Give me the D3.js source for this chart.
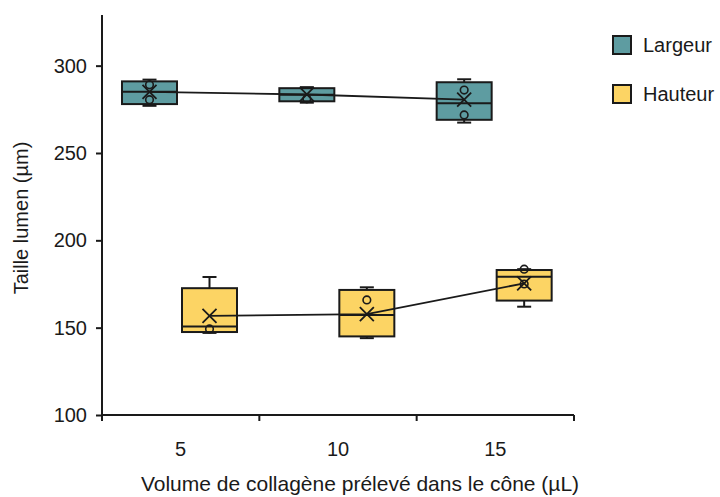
<!DOCTYPE html>
<html><head><meta charset="utf-8">
<script src="https://cdn.jsdelivr.net/npm/d3@7"></script>
<style>body{margin:0;background:#fff}svg{display:block}text{font-family:"Liberation Sans",Arial,sans-serif;fill:#1a1a1a}</style>
</head><body>
<svg id="c" width="720" height="497"></svg>
<script>
const categories = ["5", "10", "15"];
const series = ["Largeur", "Hauteur"];
const colors = ["#5e9ca1", "#fcd464"];
const yTicks = [100, 150, 200, 250, 300];
// per category: [min, q1, median, q3, max]
const largeurBox = [[277, 278, 285, 291, 292], [278.8, 279.6, 283.3, 287.1, 287.7], [267.4, 269, 278.5, 290.5, 292.2]];
const largeurMean = [285, 283.5, 280.5];
const largeurPoints = [[280.5, 289], [281], [271.8, 286]];
const hauteurBox = [[147, 147.5, 150.6, 172.6, 179], [144, 145, 157.3, 171.6, 173.1], [162, 165.5, 179.2, 183, 183.5]];
const hauteurMean = [156.7, 157.7, 175.4];
const hauteurPoints = [[149.3], [165.9], [175, 183.5]];

const svg = d3.select("#c");
const mLeft = 102, mRight = 574, mBottom = 415, mTop = 15;
const x = d3.scaleBand().domain(categories).range([mLeft, mRight]);
const xs = d3.scaleBand().domain(series).range([17.5, 137.5]);
const y = d3.scaleLinear().domain([100, 329]).range([mBottom, mTop]);
const boxW = xs.bandwidth() - 5;

const data = [
  {name: series[0], color: colors[0], box: largeurBox, mean: largeurMean, pts: largeurPoints},
  {name: series[1], color: colors[1], box: hauteurBox, mean: hauteurMean, pts: hauteurPoints}
];
const ink = "#1a1a1a";

data.forEach(s => {
  const g = svg.append("g");
  const cx = c => x(c) + xs(s.name) + xs.bandwidth() / 2;
  categories.forEach((c, i) => {
    const [mn, q1, md, q3, mx] = s.box[i];
    const X = cx(c);
    [[mx, q3], [mn, q1]].forEach(([a, b]) => {
      g.append("line").attr("x1", X).attr("x2", X).attr("y1", y(a)).attr("y2", y(b)).attr("stroke", ink).attr("stroke-width", 2);
      g.append("line").attr("x1", X - 7).attr("x2", X + 7).attr("y1", y(a)).attr("y2", y(a)).attr("stroke", ink).attr("stroke-width", 2);
    });
    g.append("rect").attr("x", X - boxW / 2).attr("width", boxW)
      .attr("y", y(q3)).attr("height", y(q1) - y(q3))
      .attr("fill", s.color).attr("stroke", ink).attr("stroke-width", 2);
    g.append("line").attr("x1", X - boxW / 2).attr("x2", X + boxW / 2).attr("y1", y(md)).attr("y2", y(md)).attr("stroke", ink).attr("stroke-width", 2);
    s.pts[i].forEach(p => {
      g.append("circle").attr("cx", X).attr("cy", y(p)).attr("r", 3.8).attr("fill", "none").attr("stroke", ink).attr("stroke-width", 1.6);
    });
    const my = y(s.mean[i]), h = 7;
    g.append("path").attr("d", `M${X - h},${my - h}L${X + h},${my + h}M${X - h},${my + h}L${X + h},${my - h}`)
      .attr("stroke", ink).attr("stroke-width", 1.8).attr("fill", "none");
  });
  g.append("path").datum(s.mean)
    .attr("d", d3.line().x((d, i) => cx(categories[i])).y(d => y(d)))
    .attr("fill", "none").attr("stroke", ink).attr("stroke-width", 1.8);
});

const ya = svg.append("g").attr("transform", `translate(${mLeft},0)`)
  .call(d3.axisLeft(y).tickValues(yTicks).tickSize(6).tickPadding(9));
ya.select(".domain").attr("d", `M0,${mTop}V${mBottom}`).attr("stroke", ink).attr("stroke-width", 2);
ya.selectAll(".tick line").attr("stroke", ink).attr("stroke-width", 2);
ya.selectAll(".tick text").style("font-size", "20px").attr("fill", ink);

const xa = svg.append("g").attr("transform", `translate(0,${mBottom})`)
  .call(d3.axisBottom(x).tickSize(0).tickPadding(27));
xa.select(".domain").attr("d", `M${mLeft},0H${mRight}`).attr("stroke", ink).attr("stroke-width", 2);
xa.selectAll(".tick text").style("font-size", "20px").attr("fill", ink);
[...categories.map(c => x(c)), mRight].forEach(v => {
  xa.append("line").attr("x1", v).attr("x2", v).attr("y1", 0).attr("y2", 6).attr("stroke", ink).attr("stroke-width", 2);
});

svg.append("text").attr("x", 360).attr("y", 491).attr("text-anchor", "middle").style("font-size", "21px")
  .text("Volume de collagène prélevé dans le cône (µL)");
svg.append("text").attr("transform", "translate(28,218) rotate(-90)").attr("text-anchor", "middle").style("font-size", "20px")
  .text("Taille lumen (µm)");

const lg = svg.append("g");
series.forEach((s, i) => {
  const cy = 45 + i * 49;
  lg.append("rect").attr("x", 613).attr("y", cy - 9).attr("width", 18).attr("height", 18)
    .attr("fill", colors[i]).attr("stroke", ink).attr("stroke-width", 2);
  lg.append("text").attr("x", 643).attr("y", cy).attr("dy", "0.35em").style("font-size", "20px").text(s);
});
</script>
</body></html>
